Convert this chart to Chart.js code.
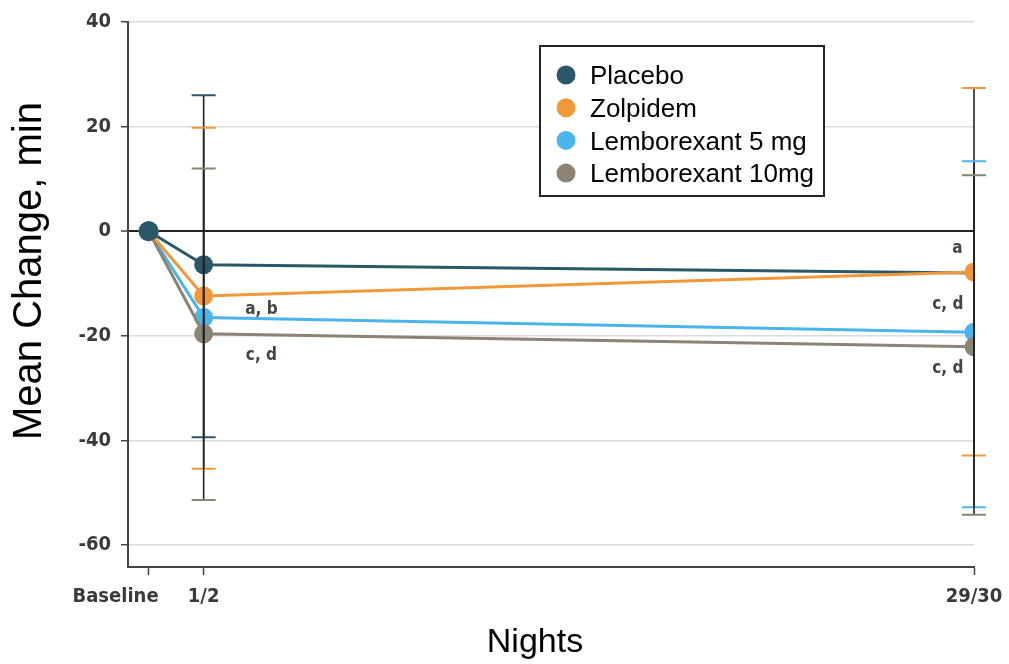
<!DOCTYPE html>
<html>
<head>
<meta charset="utf-8">
<script src="https://cdn.jsdelivr.net/npm/chart.js@4.4.1/dist/chart.umd.min.js"></script>
<style>
  html, body { margin: 0; padding: 0; background: #fff; }
  #wrap { width: 1009px; height: 664px; position: relative; }
</style>
</head>
<body>
<div id="wrap"><canvas id="myChart"></canvas></div>
<script>
// nights on a linear axis, labelled like the figure
var nights = [0, 2, 30];
var tickLabels = ['Baseline', '1/2', '29/30'];
var yTicks = [-60, -40, -20, 0, 20, 40];

var seriesNames = ['Placebo', 'Zolpidem', 'Lemborexant 5 mg', 'Lemborexant 10mg'];
var seriesColors = ['#2b5868', '#f0983a', '#4ab4ec', '#8c8374'];

var placebo = [0, -6.4, -8.0];
var zolpidem = [0, -12.4, -7.8];
var lem5 = [0, -16.5, -19.3];
var lem10 = [0, -19.6, -22.1];

// error bar ends (upper / lower), null where none is drawn
var placeboUpper = [null, 26.0, null];
var placeboLower = [null, -39.4, null];
var zolpidemUpper = [null, 19.8, 27.4];
var zolpidemLower = [null, -45.4, -42.9];
var lem5Upper = [null, null, 13.4];
var lem5Lower = [null, null, -52.8];
var lem10Upper = [null, 12.0, 10.7];
var lem10Lower = [null, -51.4, -54.2];

// significance letters: [night, value, text]
var notes = [
  [4.1, -14.9, 'a, b'],
  [4.1, -23.7, 'c, d'],
  [29.4, -3.4, 'a'],
  [29.05, -14.1, 'c, d'],
  [29.05, -26.3, 'c, d']
];

var values = [placebo, zolpidem, lem5, lem10];
var uppers = [placeboUpper, zolpidemUpper, lem5Upper, lem10Upper];
var lowers = [placeboLower, zolpidemLower, lem5Lower, lem10Lower];
var drawOrder = [4, 1, 3, 2];

var tickFontCss = 'bold 20px "DejaVu Sans Condensed"';
var tickFont = { family: 'DejaVu Sans Condensed', size: 20, weight: 'bold' };

function toPoints(arr) {
  return arr.map(function (v, i) { return { x: nights[i], y: v }; });
}

var datasets = values.map(function (arr, i) {
  return {
    label: seriesNames[i],
    data: toPoints(arr),
    borderColor: seriesColors[i],
    backgroundColor: seriesColors[i],
    borderWidth: 3,
    pointRadius: i === 0 ? [10, 9.5, 0] : 9.5,
    pointBorderWidth: 0,
    pointHoverRadius: 9.5,
    tension: 0,
    order: drawOrder[i]
  };
});

var extras = {
  id: 'extras',
  afterDatasetsDraw: function (chart) {
    var ctx = chart.ctx;
    var xs = chart.scales.x, ys = chart.scales.y;
    ctx.save();
    // error bars
    for (var s = 0; s < values.length; s++) {
      for (var i = 0; i < nights.length; i++) {
        var up = uppers[s][i], lo = lowers[s][i];
        if (up === null || lo === null) continue;
        var px = xs.getPixelForValue(nights[i]);
        var py1 = ys.getPixelForValue(up), py2 = ys.getPixelForValue(lo);
        ctx.strokeStyle = '#222';
        ctx.lineWidth = 1.6;
        ctx.beginPath();
        ctx.moveTo(px, py1);
        ctx.lineTo(px, py2);
        ctx.stroke();
        ctx.strokeStyle = seriesColors[s];
        ctx.lineWidth = 2;
        ctx.beginPath();
        ctx.moveTo(px - 12, py1); ctx.lineTo(px + 12, py1);
        ctx.moveTo(px - 12, py2); ctx.lineTo(px + 12, py2);
        ctx.stroke();
      }
    }
    // placebo baseline marker sits on top
    chart.getDatasetMeta(0).data[0].draw(ctx, chart.chartArea);

    // letters
    ctx.fillStyle = '#4a4440';
    ctx.font = 'bold 17px "DejaVu Sans Condensed"';
    ctx.textAlign = 'center';
    ctx.textBaseline = 'middle';
    notes.forEach(function (n) {
      ctx.fillText(n[2], xs.getPixelForValue(n[0]), ys.getPixelForValue(n[1]));
    });

    // x tick labels: Baseline sits left of its tick
    ctx.fillStyle = '#3a3a3a';
    ctx.font = tickFontCss;
    ctx.textBaseline = 'top';
    nights.forEach(function (n, i) {
      var px = xs.getPixelForValue(n);
      if (i === 0) {
        ctx.textAlign = 'right';
        ctx.fillText(tickLabels[i], px + 10, 587);
      } else {
        ctx.textAlign = 'center';
        ctx.fillText(tickLabels[i], px, 587);
      }
    });

    // legend box
    ctx.textBaseline = 'middle';
    ctx.fillStyle = '#fff';
    ctx.fillRect(540, 46, 284, 150);
    ctx.strokeStyle = '#222';
    ctx.lineWidth = 2;
    ctx.strokeRect(540, 46, 284, 150);
    ctx.textAlign = 'left';
    ctx.font = '26px "Liberation Sans"';
    for (var k = 0; k < seriesNames.length; k++) {
      var cy = 75 + k * 32.7;
      ctx.fillStyle = seriesColors[k];
      ctx.beginPath();
      ctx.arc(566, cy, 9.5, 0, Math.PI * 2);
      ctx.fill();
      ctx.fillStyle = '#000';
      ctx.fillText(seriesNames[k], 590, cy + 2);
    }

    // axis titles
    ctx.fillStyle = '#000';
    ctx.textAlign = 'center';
    ctx.font = '34px "Liberation Sans"';
    ctx.fillText('Nights', 535, 643);
    ctx.translate(30, 271);
    ctx.rotate(-Math.PI / 2);
    ctx.font = '40px "Liberation Sans"';
    ctx.fillText('Mean Change, min', 0, 0);
    ctx.restore();
  }
};

var ctx = document.getElementById('myChart');
var chartNights = new Chart(ctx, {
  type: 'line',
  data: { datasets: datasets },
  options: {
    responsive: true,
    maintainAspectRatio: false,
    animation: false,
    layout: { padding: { top: 21, right: 35, left: 0, bottom: 0 } },
    plugins: {
      legend: { display: false },
      tooltip: { enabled: false }
    },
    scales: {
      x: {
        type: 'linear',
        min: -0.75,
        max: 30,
        afterBuildTicks: function (axis) {
          axis.ticks = nights.map(function (v) { return { value: v }; });
        },
        afterFit: function (scale) { scale.height = 97; },
        ticks: { display: false },
        grid: { drawOnChartArea: false, drawTicks: true, tickLength: 8, tickColor: '#444', tickWidth: 1.5 },
        border: { display: true, color: '#444', width: 2 }
      },
      y: {
        min: -64.2,
        max: 40,
        afterBuildTicks: function (axis) {
          axis.ticks = yTicks.map(function (v) { return { value: v }; });
        },
        afterFit: function (scale) { scale.width = 128; },
        ticks: {
          padding: 10,
          color: '#3a3a3a',
          font: tickFont
        },
        grid: {
          drawTicks: true,
          tickLength: 7,
          tickColor: '#444',
          tickWidth: 1.5,
          color: function (c) { return c.tick && c.tick.value === 0 ? '#222' : '#dcdcdc'; },
          lineWidth: function (c) { return c.tick && c.tick.value === 0 ? 2 : 1.5; }
        },
        border: { display: true, color: '#444', width: 2 }
      }
    }
  },
  plugins: [extras]
});
</script>
</body>
</html>
